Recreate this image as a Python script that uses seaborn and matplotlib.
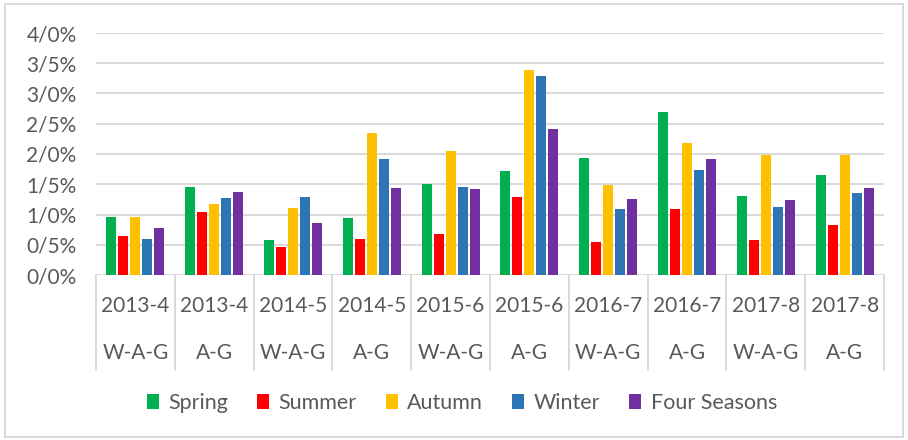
import pandas as pd
import matplotlib.pyplot as plt
import matplotlib.transforms as mtransforms
from matplotlib.patches import Rectangle
import seaborn as sns

# Data (percent)

periods = ["2013-4", "2013-4", "2014-5", "2014-5", "2015-6",
           "2015-6", "2016-7", "2016-7", "2017-8", "2017-8"]
groups = ["W-A-G", "A-G", "W-A-G", "A-G", "W-A-G",
          "A-G", "W-A-G", "A-G", "W-A-G", "A-G"]
seasons = ["Spring", "Summer", "Autumn", "Winter", "Four Seasons"]

spring = [0.96, 1.45, 0.58, 0.94, 1.50, 1.72, 1.94, 2.69, 1.30, 1.65]
summer = [0.65, 1.04, 0.47, 0.60, 0.68, 1.29, 0.54, 1.09, 0.58, 0.82]
autumn = [0.96, 1.17, 1.11, 2.35, 2.05, 3.39, 1.48, 2.19, 1.98, 1.98]
winter = [0.59, 1.27, 1.29, 1.92, 1.46, 3.29, 1.09, 1.73, 1.12, 1.35]
four_seasons = [0.78, 1.37, 0.86, 1.44, 1.42, 2.41, 1.26, 1.92, 1.24, 1.44]

y_ticks = [0, 0.5, 1.0, 1.5, 2.0, 2.5, 3.0, 3.5, 4.0]
y_tick_labels = ["0/0%", "0/5%", "1/0%", "1/5%", "2/0%",
                 "2/5%", "3/0%", "3/5%", "4/0%"]

colors = ["#00B050", "#FF0000", "#FFC000", "#2E75B6", "#7030A0"]

# Long format table

keys = [p + " " + g for p, g in zip(periods, groups)]
rows = []
for name, vals in zip(seasons, [spring, summer, autumn, winter, four_seasons]):
    for k, v in zip(keys, vals):
        rows.append({"key": k, "season": name, "value": v})
df = pd.DataFrame(rows)

sns.set_style("white")
plt.rcParams["font.family"] = ["Lato", "DejaVu Sans"]

text_color = "#595959"
grid_color = "#D9D9D9"

fig = plt.figure(figsize=(9.08, 4.40), dpi=100)
ax = fig.add_axes([96 / 908, (440 - 275) / 440, (884 - 96) / 908, (275 - 33) / 440])

sns.barplot(
    data=df,
    x="key",
    y="value",
    hue="season",
    hue_order=seasons,
    order=keys,
    palette=colors,
    saturation=1,
    width=0.76,
    gap=0.17,
    linewidth=0,
    ax=ax
)

handles, labels = ax.get_legend_handles_labels()
ax.get_legend().remove()

ax.set_ylim(0, 4.0)
ax.set_xlim(-0.5, len(keys) - 0.5)
ax.set_yticks(y_ticks)
ax.set_yticklabels(y_tick_labels, fontsize=15, color=text_color)
ax.yaxis.grid(True, color=grid_color, linewidth=1.4)
ax.set_axisbelow(True)
ax.tick_params(axis="y", length=0, pad=14)
ax.set_xticks([])
ax.set_xlabel("")
ax.set_ylabel("")
for s in ax.spines.values():
    s.set_visible(False)

# Category axis: two label rows and separators

trans = mtransforms.blended_transform_factory(ax.transData, ax.transAxes)
axis_h = 275 - 33
for i in range(len(keys)):
    ax.text(i, -(306 - 275) / axis_h, periods[i], transform=trans,
            ha="center", va="center", fontsize=15, color=text_color)
    ax.text(i, -(353 - 275) / axis_h, groups[i], transform=trans,
            ha="center", va="center", fontsize=15, color=text_color)
for i in range(len(keys) + 1):
    ax.plot([i - 0.5, i - 0.5], [0, -(370 - 275) / axis_h], transform=trans,
            color=grid_color, linewidth=1.4, clip_on=False)

# Legend

fig.legend(
    handles, labels,
    loc="center",
    bbox_to_anchor=(462 / 908, 1 - 403 / 440),
    ncol=5,
    frameon=False,
    fontsize=15.5,
    labelcolor=text_color,
    handlelength=0.55,
    handleheight=0.75,
    handletextpad=0.45,
    columnspacing=1.35
)

# Outer border

fig.patches.append(Rectangle((5 / 908, 3 / 440), 898 / 908, 433 / 440,
                             transform=fig.transFigure, fill=False,
                             edgecolor=grid_color, linewidth=1.4))

plt.savefig("out.png", dpi=100)
plt.close()
